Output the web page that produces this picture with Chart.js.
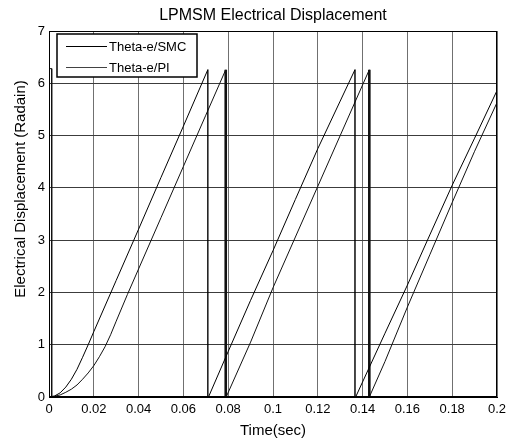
<!DOCTYPE html>
<html><head><meta charset="utf-8">
<script src="https://cdn.jsdelivr.net/npm/chart.js@4/dist/chart.umd.min.js"></script>
<style>html,body{margin:0;padding:0;background:#fff}#wrap{width:512px;height:441px}</style>
</head><body><div id="wrap"><canvas id="c" width="512" height="441"></canvas></div>
<script>
const chartTitle = 'LPMSM Electrical Displacement';
const xTitle = 'Time(sec)';
const yTitle = 'Electrical Displacement (Radain)';
const seriesNames = ['Theta-e/SMC', 'Theta-e/PI'];
const xTicks = [0, 0.02, 0.04, 0.06, 0.08, 0.1, 0.12, 0.14, 0.16, 0.18, 0.2];
const yTicks = [0, 1, 2, 3, 4, 5, 6, 7];

const smcTime  = [0, 0.0025, 0.005, 0.0075, 0.01, 0.0125, 0.015, 0.0175, 0.02, 0.03, 0.04, 0.05, 0.06, 0.0709, 0.0709, 0.0712, 0.08, 0.09, 0.1, 0.11, 0.12, 0.13, 0.1366, 0.1366, 0.1369, 0.15, 0.16, 0.17, 0.18, 0.19, 0.2];
const smcTheta = [0, 0.02, 0.08, 0.19, 0.34, 0.53, 0.76, 1.0, 1.25, 2.23, 3.21, 4.2, 5.18, 6.26, 0, 0, 0.87, 1.85, 2.8, 3.78, 4.75, 5.66, 6.26, 0, 0, 1.22, 2.14, 3.1, 4.05, 4.95, 5.86];

const piTime  = [0, 0.0012, 0.0012, 0.005, 0.0075, 0.01, 0.0125, 0.015, 0.0175, 0.02, 0.0225, 0.025, 0.0275, 0.03, 0.035, 0.04, 0.05, 0.06, 0.07, 0.0789, 0.0789, 0.0791, 0.09, 0.1, 0.11, 0.12, 0.13, 0.143, 0.143, 0.1433, 0.15, 0.16, 0.17, 0.18, 0.19, 0.2];
const piTheta = [6.28, 6.28, 0, 0.04, 0.09, 0.15, 0.23, 0.34, 0.46, 0.6, 0.77, 0.96, 1.19, 1.45, 1.96, 2.45, 3.43, 4.41, 5.39, 6.26, 0, 0, 1.05, 2.09, 3.06, 4.03, 5.0, 6.26, 0, 0, 0.68, 1.72, 2.72, 3.72, 4.7, 5.63];

const FONT = "'Liberation Sans', Arial, sans-serif";
const toPts = (xs, ys) => xs.map((x, i) => ({x: x, y: ys[i]}));
const isDrop = c => c.p0.parsed.x === c.p1.parsed.x && c.p0.parsed.x > 0.01 && c.p0.parsed.y > 6;

const decor = {
  id: 'decor',
  afterDraw(chart) {
    const {ctx, chartArea: a} = chart;
    ctx.save();
    ctx.strokeStyle = '#000';
    ctx.lineWidth = 1;
    ctx.strokeRect(a.left + 0.5, a.top + 0.5, a.right - a.left - 1, a.bottom - a.top - 1);
    ctx.fillStyle = '#000';
    ctx.font = '16px ' + FONT;
    ctx.textAlign = 'center';
    ctx.textBaseline = 'middle';
    ctx.fillText(chartTitle, (a.left + a.right) / 2, 16);
    ctx.save();
    ctx.translate(21, 189);
    ctx.rotate(-Math.PI / 2);
    ctx.font = '15px ' + FONT;
    ctx.fillText(yTitle, 0, 0);
    ctx.restore();
    const lx = 57, ly = 34, lw = 140, lh = 43;
    ctx.fillStyle = '#fff';
    ctx.fillRect(lx, ly, lw, lh);
    ctx.lineWidth = 1.5;
    ctx.strokeStyle = '#000';
    ctx.strokeRect(lx, ly, lw, lh);
    ctx.font = '13px ' + FONT;
    ctx.textAlign = 'left';
    ctx.fillStyle = '#000';
    chart.data.datasets.forEach((ds, i) => {
      const yy = ly + 12 + i * 21;
      ctx.strokeStyle = ds.borderColor;
      ctx.lineWidth = i === 0 ? 1.2 : 0.8;
      ctx.beginPath();
      ctx.moveTo(lx + 9, yy + 0.5);
      ctx.lineTo(lx + 50, yy + 0.5);
      ctx.stroke();
      ctx.fillText(ds.label, lx + 52, yy + 1);
    });
    ctx.restore();
  }
};

new Chart(document.getElementById('c'), {
  type: 'scatter',
  data: {
    datasets: [
      {label: seriesNames[0], data: toPts(smcTime, smcTheta), showLine: true, borderColor: '#000', borderWidth: 1, pointRadius: 0, tension: 0,
       segment: {borderWidth: c => isDrop(c) ? 0.7 : 1}},
      {label: seriesNames[1], data: toPts(piTime, piTheta), showLine: true, borderColor: '#111', borderWidth: 1, pointRadius: 0, tension: 0,
       segment: {borderWidth: c => isDrop(c) ? 2.6 : 1}}
    ]
  },
  options: {
    responsive: false,
    animation: false,
    devicePixelRatio: 1,
    layout: {padding: {top: 31, right: 15, left: 0, bottom: 0}},
    plugins: {legend: {display: false}, title: {display: false}, tooltip: {enabled: false}},
    scales: {
      x: {
        type: 'linear', min: 0, max: 0.2,
        afterBuildTicks: s => { s.ticks = xTicks.map(v => ({value: v})); },
        afterFit: s => { s.height = 44; },
        grid: {color: '#707070', lineWidth: 1, drawTicks: false},
        border: {color: '#000'},
        ticks: {color: '#000', padding: 5, maxRotation: 0, font: {family: FONT, size: 13}, callback: v => String(Number(v.toFixed(2)))},
        title: {display: true, text: xTitle, color: '#000', font: {family: FONT, size: 15}, padding: {top: 0, bottom: 1}}
      },
      y: {
        type: 'linear', min: 0, max: 7,
        afterBuildTicks: s => { s.ticks = yTicks.map(v => ({value: v})); },
        afterFit: s => { s.width = 49; },
        grid: {color: '#3c3c3c', lineWidth: 1, drawTicks: false},
        border: {color: '#000'},
        ticks: {color: '#000', padding: 4, font: {family: FONT, size: 13}}
      }
    }
  },
  plugins: [decor]
});
</script>
</body></html>
